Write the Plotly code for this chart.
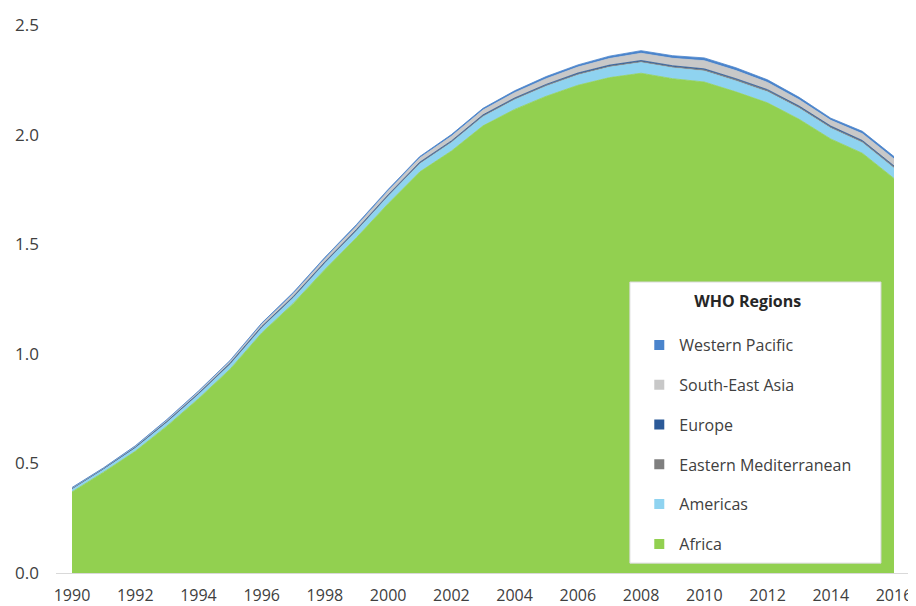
import plotly.graph_objects as go

years = list(range(1990, 2017))

africa = [0.370, 0.460, 0.555, 0.670, 0.795, 0.930, 1.095, 1.230, 1.385, 1.530,
          1.685, 1.830, 1.925, 2.040, 2.115, 2.175, 2.225, 2.260, 2.280, 2.255,
          2.240, 2.195, 2.145, 2.070, 1.980, 1.915, 1.800]
americas = [0.013, 0.014, 0.016, 0.018, 0.020, 0.022, 0.024, 0.026, 0.028, 0.031,
            0.034, 0.037, 0.039, 0.042, 0.044, 0.046, 0.047, 0.048, 0.049, 0.050,
            0.050, 0.050, 0.050, 0.050, 0.049, 0.048, 0.047]
eastern_med = [0.002, 0.002, 0.002, 0.002, 0.003, 0.003, 0.003, 0.003, 0.004, 0.004,
               0.004, 0.004, 0.004, 0.005, 0.005, 0.005, 0.005, 0.005, 0.005, 0.005,
               0.006, 0.006, 0.006, 0.006, 0.006, 0.006, 0.006]
europe = [0.001, 0.001, 0.001, 0.001, 0.001, 0.002, 0.002, 0.002, 0.002, 0.002,
          0.002, 0.003, 0.003, 0.003, 0.003, 0.003, 0.004, 0.004, 0.004, 0.004,
          0.004, 0.004, 0.004, 0.004, 0.004, 0.004, 0.004]
se_asia = [0.002, 0.002, 0.004, 0.006, 0.008, 0.009, 0.011, 0.013, 0.015, 0.016,
           0.018, 0.019, 0.021, 0.022, 0.024, 0.026, 0.027, 0.030, 0.033, 0.034,
           0.037, 0.037, 0.033, 0.029, 0.026, 0.031, 0.032]
w_pacific = [0.002, 0.001, 0.002, 0.003, 0.003, 0.004, 0.005, 0.006, 0.006, 0.007,
             0.007, 0.007, 0.008, 0.008, 0.009, 0.010, 0.010, 0.011, 0.012, 0.012,
             0.013, 0.013, 0.012, 0.011, 0.010, 0.011, 0.011]

series_names = ["Africa", "Americas", "Eastern Mediterranean", "Europe",
                "South-East Asia", "Western Pacific"]
series_values = [africa, americas, eastern_med, europe, se_asia, w_pacific]
series_colors = ["#92D050", "#8FD3F0", "#7F7F7F", "#2B5A98", "#C8C8C8", "#4A84CC"]

y_ticks = [0.0, 0.5, 1.0, 1.5, 2.0, 2.5]
x_ticks = list(range(1990, 2017, 2))

FONT = "Open Sans, Noto Sans, Liberation Sans, sans-serif"

fig = go.Figure()
for name, vals, col in zip(series_names, series_values, series_colors):
    fig.add_trace(go.Scatter(
        x=years, y=vals, name=name, stackgroup="one", mode="lines",
        line=dict(width=0.8, color=col), fillcolor=col,
        legendgroup=name, showlegend=False,
        hovertemplate="%{x}: %{y:.3f}<extra>" + name + "</extra>",
    ))
# legend entries: top of the stack listed first
for name, col in reversed(list(zip(series_names, series_colors))):
    fig.add_trace(go.Scatter(
        x=[None], y=[None], name=name, mode="markers",
        marker=dict(symbol="square", size=10, color=col),
        legendgroup=name, showlegend=True,
    ))

fig.add_shape(type="rect", xref="paper", yref="paper",
              x0=0.672, x1=0.966, y0=0.018, y1=0.531,
              fillcolor="white", line=dict(color="#d9d9d9", width=1),
              layer="above")

# the page body adds an 8px offset, so the figure is sized to fit the window
fig.update_layout(
    width=908, height=598,
    margin=dict(l=48, r=6, t=17, b=33),
    paper_bgcolor="white", plot_bgcolor="white",
    font=dict(family=FONT, size=17, color="#404040"),
    showlegend=True,
    legend=dict(
        x=0.683, xanchor="left", y=0.523, yanchor="top",
        bgcolor="rgba(0,0,0,0)", borderwidth=0,
        traceorder="grouped", tracegroupgap=16,
        font=dict(family=FONT, size=16, color="#404040"),
        title=dict(text="<b>WHO Regions</b><br> ", side="top center",
                   font=dict(family=FONT, size=16, color="#262626")),
        itemwidth=30,
    ),
    xaxis=dict(
        range=[1989.494, 2016.506], tickmode="array", tickvals=x_ticks,
        ticktext=[str(v) for v in x_ticks], showgrid=False, zeroline=False,
        showline=True, linecolor="#d9d9d9", linewidth=1, ticks="",
        ticklabelstandoff=8, automargin=False,
        tickfont=dict(family=FONT, size=16, color="#404040"),
    ),
    yaxis=dict(
        range=[0, 2.5], tickmode="array", tickvals=y_ticks,
        ticktext=[f"{v:.1f}" for v in y_ticks], showgrid=False, zeroline=False,
        showline=False, ticks="", ticklabelstandoff=16, automargin=False,
    ),
)

fig.write_html("out.html")
